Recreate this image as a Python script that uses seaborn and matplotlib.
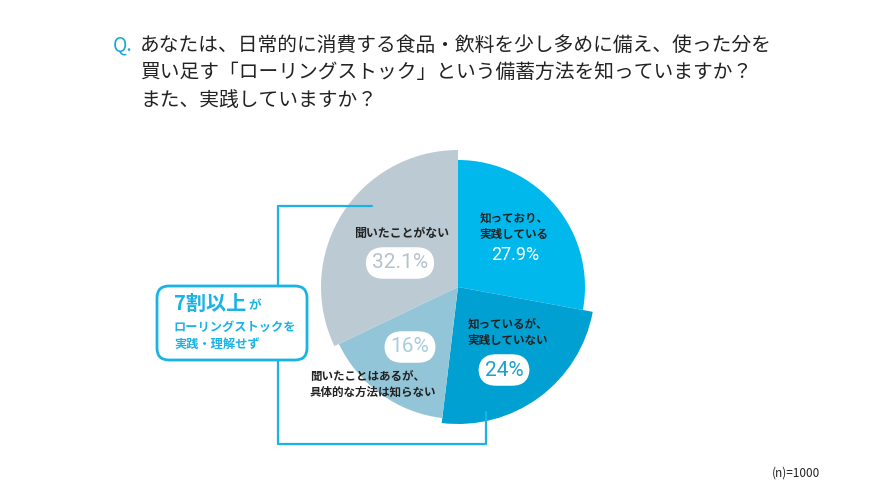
import matplotlib.pyplot as plt
from matplotlib.patches import FancyBboxPatch
import seaborn as sns

# Datos del gráfico
categorias = ["知っており、\n実践している", "知っているが、\n実践していない",
              "聞いたことはあるが、\n具体的な方法は知らない", "聞いたことがない"]
porcentajes = [27.9, 24, 16, 32.1]
etiquetas_pct = ["27.9%", "24%", "16%", "32.1%"]
colores = ["#00b8ec", "#00a0d2", "#93c5d8", "#bccad4"]

titulo = ["あなたは、日常的に消費する食品・飲料を少し多めに備え、使った分を",
          "買い足す「ローリングストック」という備蓄方法を知っていますか？",
          "また、実践していますか？"]
nota = "(n)=1000"

sns.set_theme(style="white")
plt.rcParams['font.family'] = ['Noto Sans CJK JP', 'DejaVu Sans']

W, H = 880, 495
fig = plt.figure(figsize=(8.8, 4.95), dpi=100)
ax = fig.add_axes([0, 0, 1, 1])

# Tarta (coordenadas en píxeles, y hacia arriba)
cx, cy = 458, H - 287
wedges, _ = ax.pie(porcentajes, colors=colores, startangle=90, counterclock=False,
                   center=(cx, cy), radius=136, wedgeprops=dict(linewidth=0))
for w, r in zip(wedges, [127, 137, 132, 137]):
    w.set_radius(r)

ax.set_xlim(0, W)
ax.set_ylim(0, H)
ax.set_aspect('equal')
ax.axis('off')

# Título
ax.text(113, H - 45, "Q.", color="#1aa8d8", fontsize=14, va="center")
for i, linea in enumerate(titulo):
    ax.text(140, H - 45 - i * 27.5, linea, color="#222222", fontsize=14.2, va="center")

# Etiquetas de la tarta
num = dict(family=["Roboto", "DejaVu Sans"], fontweight="normal", ha="center", va="center")
caja = dict(boxstyle="round,pad=0.3,rounding_size=0.85", fc="white", ec="none")

ax.text(514, H - 226, categorias[0], fontsize=8.3, fontweight="bold", ha="center",
        va="center", color="#222222", linespacing=1.3)
ax.text(515, H - 255, etiquetas_pct[0], fontsize=13, color="white", **num)

ax.text(508, H - 332, categorias[1], fontsize=8.3, fontweight="bold", ha="center",
        va="center", color="#222222", linespacing=1.3)
ax.text(504, H - 370, etiquetas_pct[1], fontsize=15, color="#1a9fd0", bbox=caja, **num)

ax.text(410, H - 347, etiquetas_pct[2], fontsize=15, color="#a8cddc", bbox=caja, **num)
ax.text(310, H - 384, categorias[2], fontsize=8.3, fontweight="bold", ha="left",
        va="center", color="#222222", linespacing=1.3)

ax.text(402, H - 233, categorias[3], fontsize=8.6, fontweight="bold", ha="center",
        va="center", color="#222222")
ax.text(400, H - 263, etiquetas_pct[3], fontsize=15, color="#b5c2cc", bbox=caja, **num)

# Corchete y recuadro
cian = "#1ab3e6"
ax.plot([372, 278, 278], [H - 206, H - 206, H - 286], color=cian, lw=1.6)
ax.plot([278, 278, 486, 486], [H - 360, H - 444, H - 444, H - 412], color=cian, lw=1.6)
ax.add_patch(FancyBboxPatch((157, H - 360), 150, 74,
                            boxstyle="round,pad=0,rounding_size=12",
                            fc="white", ec=cian, lw=2))
ax.text(174, H - 303, "7割以上", fontsize=14.5, color=cian, va="center", fontweight="bold")
ax.text(248, H - 306, "が", fontsize=9, color=cian, va="center", fontweight="bold")
ax.text(174, H - 327, "ローリングストックを", fontsize=8.8, color=cian, va="center", fontweight="bold")
ax.text(174, H - 344, "実践・理解せず", fontsize=8.8, color=cian, va="center", fontweight="bold")

ax.text(820, H - 473, nota, fontsize=8.5, color="#222222", ha="right", va="center")

fig.savefig("out.png", dpi=100, facecolor="white")
